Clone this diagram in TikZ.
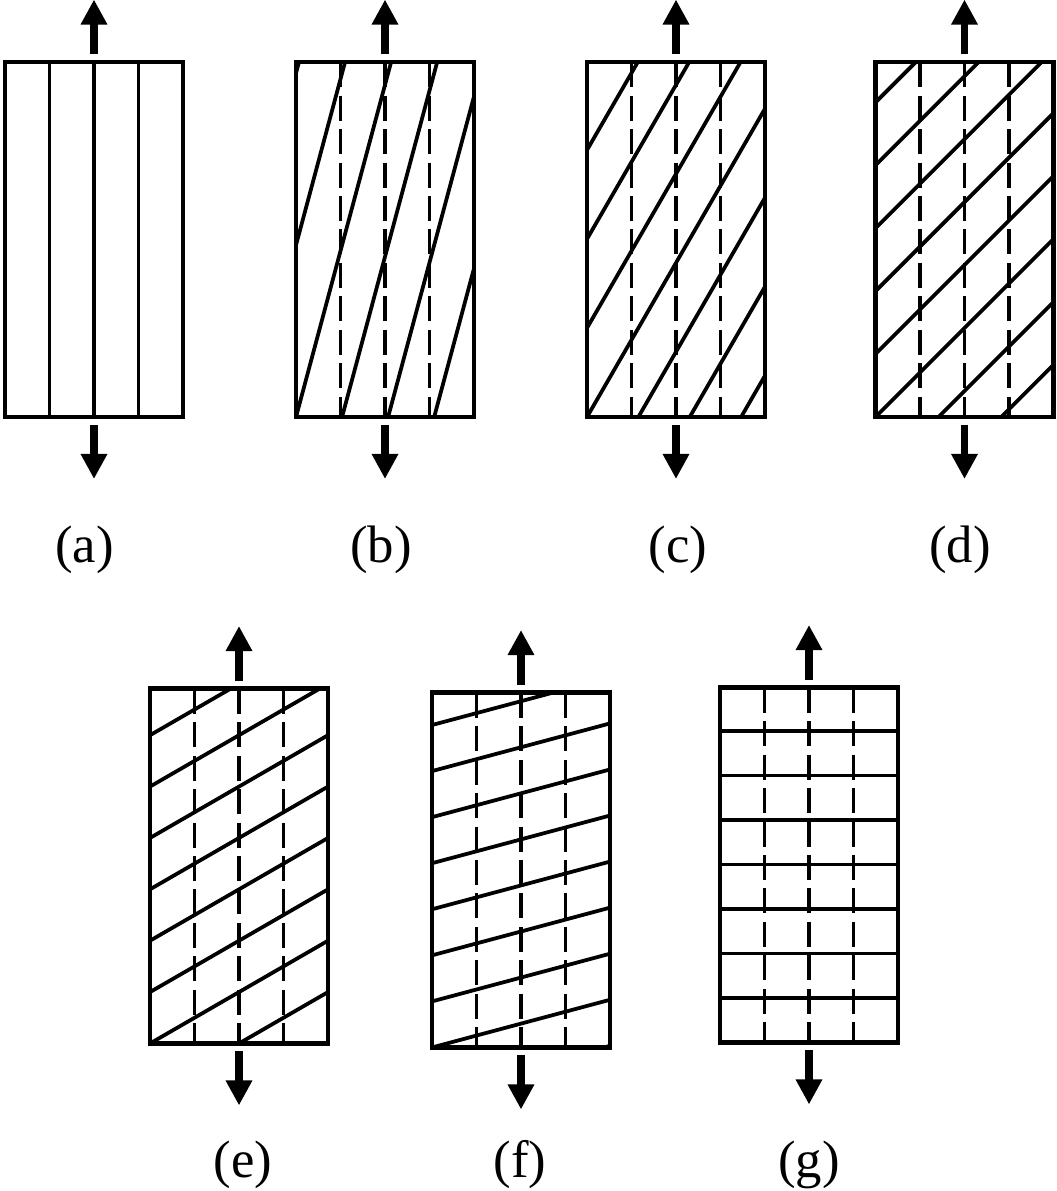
\documentclass[tikz,border=0pt]{standalone}
\usepackage{fontspec}
\setmainfont{Liberation Serif}
\usepackage{tikz}
\usetikzlibrary{positioning}
\usetikzlibrary{calc}
\usetikzlibrary{arrows.meta}
\tikzset{ply/.style={draw,line width=0.09cm,minimum width=3.56cm,minimum height=7.1cm,inner sep=0pt,outer sep=0pt}}
\tikzset{fibre/.style={line width=0.075cm}}
\tikzset{matrixline/.style={line width=0.07cm,dash pattern=on 0.5cm off 0.17cm}}
\tikzset{load/.style={line width=0.15cm,-{Triangle[length=0.5cm,width=0.5cm]}}}
\tikzset{tag/.style={font=\fontsize{30}{36}\selectfont,inner sep=0pt}}
% name, centre, fibre angle, label, label position
\newcommand{\lamina}[5]{%
\node[ply] (#1) at (#2) {};
\begin{scope}
\clip (#1.south west) rectangle (#1.north east);
\foreach \i in {1,2,3}
  \draw[matrixline] ($(#1.north west)+({\i*0.89cm},0)$) -- ++(0,-7.1cm);
\foreach \k in {-10,...,10}
  \draw[fibre] ($(#1.south west)+({-#3}:{\k*0.89cm})$) ++({90-#3}:9cm) -- ++({270-#3}:18cm);
\end{scope}
\coordinate (#1-up) at ($(#1.north)+(0,1.25cm)$);
\coordinate (#1-down) at ($(#1.south)+(0,-1.24cm)$);
\draw[load,shorten <=0.16cm] (#1.north) -- (#1-up);
\draw[load,shorten <=0.16cm] (#1.south) -- (#1-down);
\node[tag] (#1-tag) at (#5) {#4};
}

\begin{document}
\begin{tikzpicture}[x=0.02cm,y=0.02cm]
\useasboundingbox (0,0) rectangle (1057,1191);
\lamina{pa}{94,951.5}{0}{(a)}{84.5,641}
\lamina{pb}{385,951.5}{15}{(b)}{381,641}
\lamina{pc}{676,951.5}{30}{(c)}{678,641}
\lamina{pd}{964.5,951.5}{45}{(d)}{960,641}
\lamina{pe}{239,325}{60}{(e)}{243,26}
\lamina{pf}{521,321}{75}{(f)}{520,26}
\lamina{pg}{809,326}{90}{(g)}{809,26}
\end{tikzpicture}
\end{document}
